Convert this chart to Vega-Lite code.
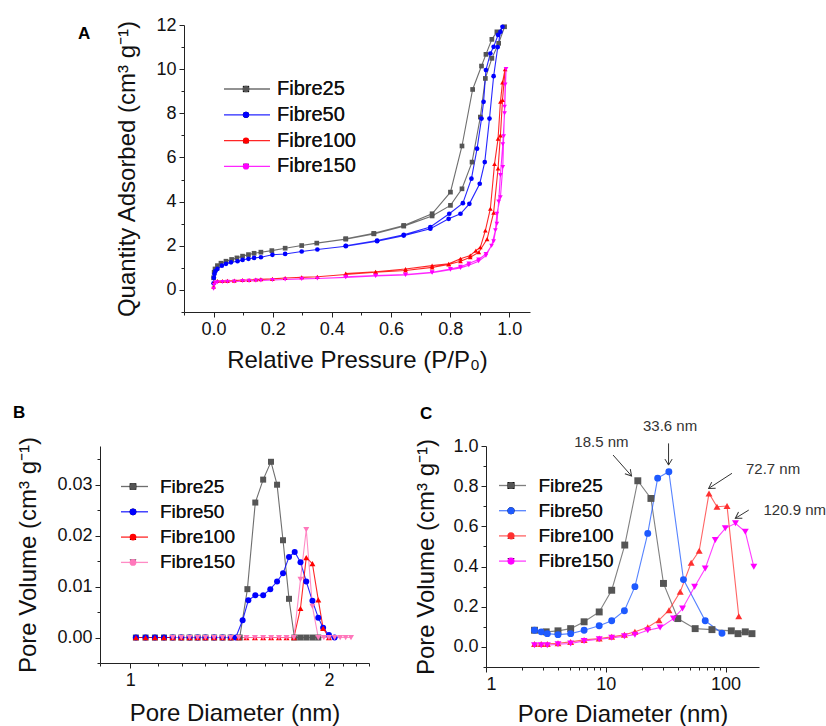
{
  "$schema": "https://vega.github.io/schema/vega-lite/v6.json",
  "padding": {"left": 13, "top": 16, "right": 0, "bottom": 0},
  "background": "white",
  "config": {
    "font": "Liberation Sans",
    "view": {"stroke": null},
    "axis": {"grid": false, "domainColor": "#222", "tickColor": "#222", "labelColor": "#111", "titleColor": "#111", "labelFontSize": 18, "titleFontSize": 24, "titleFontWeight": "normal", "labelFont": "Liberation Sans", "titleFont": "Liberation Sans", "tickSize": 5, "labelPadding": 3},
    "legend": {"labelFont": "Liberation Sans", "labelColor": "#111"},
    "title": {"font": "Liberation Sans", "fontWeight": "bold", "color": "#000"}
  },
  "datasets": {
    "iso": [
      {"s":"Fibre25","i":0,"P":0.000,"Q":0.55},{"s":"Fibre25","i":1,"P":0.002,"Q":0.80},{"s":"Fibre25","i":2,"P":0.005,"Q":0.95},{"s":"Fibre25","i":3,"P":0.013,"Q":1.10},{"s":"Fibre25","i":4,"P":0.025,"Q":1.21},{"s":"Fibre25","i":5,"P":0.042,"Q":1.30},{"s":"Fibre25","i":6,"P":0.061,"Q":1.38},{"s":"Fibre25","i":7,"P":0.079,"Q":1.45},{"s":"Fibre25","i":8,"P":0.098,"Q":1.53},{"s":"Fibre25","i":9,"P":0.118,"Q":1.60},{"s":"Fibre25","i":10,"P":0.137,"Q":1.66},{"s":"Fibre25","i":11,"P":0.160,"Q":1.71},{"s":"Fibre25","i":12,"P":0.197,"Q":1.78},{"s":"Fibre25","i":13,"P":0.242,"Q":1.89},{"s":"Fibre25","i":14,"P":0.298,"Q":2.01},{"s":"Fibre25","i":15,"P":0.349,"Q":2.12},{"s":"Fibre25","i":16,"P":0.447,"Q":2.30},{"s":"Fibre25","i":17,"P":0.542,"Q":2.54},{"s":"Fibre25","i":18,"P":0.643,"Q":2.89},{"s":"Fibre25","i":19,"P":0.739,"Q":3.35},{"s":"Fibre25","i":20,"P":0.801,"Q":3.83},{"s":"Fibre25","i":21,"P":0.840,"Q":4.58},{"s":"Fibre25","i":22,"P":0.874,"Q":5.79},{"s":"Fibre25","i":23,"P":0.902,"Q":7.83},{"s":"Fibre25","i":24,"P":0.919,"Q":9.58},{"s":"Fibre25","i":25,"P":0.941,"Q":10.49},{"s":"Fibre25","i":26,"P":0.964,"Q":11.17},{"s":"Fibre25","i":27,"P":0.984,"Q":11.92},{"s":"Fibre25","i":28,"P":0.958,"Q":11.69},{"s":"Fibre25","i":29,"P":0.941,"Q":11.35},{"s":"Fibre25","i":30,"P":0.921,"Q":10.67},{"s":"Fibre25","i":31,"P":0.906,"Q":10.14},{"s":"Fibre25","i":32,"P":0.876,"Q":9.08},{"s":"Fibre25","i":33,"P":0.840,"Q":6.52},{"s":"Fibre25","i":34,"P":0.801,"Q":4.43},{"s":"Fibre25","i":35,"P":0.739,"Q":3.45},{"s":"Fibre25","i":36,"P":0.643,"Q":2.92},{"s":"Fibre25","i":37,"P":0.542,"Q":2.56},{"s":"Fibre25","i":38,"P":0.447,"Q":2.32},
      {"s":"Fibre50","i":0,"P":0.000,"Q":0.30},{"s":"Fibre50","i":1,"P":0.001,"Q":0.55},{"s":"Fibre50","i":2,"P":0.003,"Q":0.72},{"s":"Fibre50","i":3,"P":0.006,"Q":0.85},{"s":"Fibre50","i":4,"P":0.013,"Q":0.95},{"s":"Fibre50","i":5,"P":0.028,"Q":1.10},{"s":"Fibre50","i":6,"P":0.042,"Q":1.18},{"s":"Fibre50","i":7,"P":0.059,"Q":1.25},{"s":"Fibre50","i":8,"P":0.081,"Q":1.30},{"s":"Fibre50","i":9,"P":0.098,"Q":1.36},{"s":"Fibre50","i":10,"P":0.118,"Q":1.41},{"s":"Fibre50","i":11,"P":0.137,"Q":1.45},{"s":"Fibre50","i":12,"P":0.160,"Q":1.48},{"s":"Fibre50","i":13,"P":0.199,"Q":1.59},{"s":"Fibre50","i":14,"P":0.242,"Q":1.63},{"s":"Fibre50","i":15,"P":0.298,"Q":1.74},{"s":"Fibre50","i":16,"P":0.351,"Q":1.83},{"s":"Fibre50","i":17,"P":0.447,"Q":1.98},{"s":"Fibre50","i":18,"P":0.553,"Q":2.21},{"s":"Fibre50","i":19,"P":0.643,"Q":2.46},{"s":"Fibre50","i":20,"P":0.733,"Q":2.77},{"s":"Fibre50","i":21,"P":0.795,"Q":3.22},{"s":"Fibre50","i":22,"P":0.835,"Q":3.45},{"s":"Fibre50","i":23,"P":0.865,"Q":3.90},{"s":"Fibre50","i":24,"P":0.900,"Q":4.81},{"s":"Fibre50","i":25,"P":0.917,"Q":5.79},{"s":"Fibre50","i":26,"P":0.933,"Q":7.76},{"s":"Fibre50","i":27,"P":0.947,"Q":9.68},{"s":"Fibre50","i":28,"P":0.961,"Q":11.00},{"s":"Fibre50","i":29,"P":0.970,"Q":11.69},{"s":"Fibre50","i":30,"P":0.977,"Q":11.92},{"s":"Fibre50","i":31,"P":0.962,"Q":11.55},{"s":"Fibre50","i":32,"P":0.947,"Q":11.01},{"s":"Fibre50","i":33,"P":0.936,"Q":10.71},{"s":"Fibre50","i":34,"P":0.921,"Q":9.96},{"s":"Fibre50","i":35,"P":0.913,"Q":8.52},{"s":"Fibre50","i":36,"P":0.906,"Q":7.76},{"s":"Fibre50","i":37,"P":0.891,"Q":6.40},{"s":"Fibre50","i":38,"P":0.872,"Q":5.04},{"s":"Fibre50","i":39,"P":0.843,"Q":3.93},{"s":"Fibre50","i":40,"P":0.797,"Q":3.45},{"s":"Fibre50","i":41,"P":0.733,"Q":2.85},{"s":"Fibre50","i":42,"P":0.643,"Q":2.50},{"s":"Fibre50","i":43,"P":0.553,"Q":2.24},{"s":"Fibre50","i":44,"P":0.447,"Q":2.00},
      {"s":"Fibre100","i":0,"P":0.000,"Q":0.15},{"s":"Fibre100","i":1,"P":0.002,"Q":0.35},{"s":"Fibre100","i":2,"P":0.013,"Q":0.40},{"s":"Fibre100","i":3,"P":0.030,"Q":0.40},{"s":"Fibre100","i":4,"P":0.047,"Q":0.41},{"s":"Fibre100","i":5,"P":0.070,"Q":0.42},{"s":"Fibre100","i":6,"P":0.098,"Q":0.45},{"s":"Fibre100","i":7,"P":0.120,"Q":0.45},{"s":"Fibre100","i":8,"P":0.143,"Q":0.47},{"s":"Fibre100","i":9,"P":0.160,"Q":0.48},{"s":"Fibre100","i":10,"P":0.199,"Q":0.50},{"s":"Fibre100","i":11,"P":0.242,"Q":0.54},{"s":"Fibre100","i":12,"P":0.298,"Q":0.57},{"s":"Fibre100","i":13,"P":0.351,"Q":0.60},{"s":"Fibre100","i":14,"P":0.447,"Q":0.70},{"s":"Fibre100","i":15,"P":0.548,"Q":0.80},{"s":"Fibre100","i":16,"P":0.649,"Q":0.88},{"s":"Fibre100","i":17,"P":0.739,"Q":1.02},{"s":"Fibre100","i":18,"P":0.795,"Q":1.15},{"s":"Fibre100","i":19,"P":0.835,"Q":1.30},{"s":"Fibre100","i":20,"P":0.868,"Q":1.48},{"s":"Fibre100","i":21,"P":0.897,"Q":1.71},{"s":"Fibre100","i":22,"P":0.925,"Q":2.30},{"s":"Fibre100","i":23,"P":0.947,"Q":3.50},{"s":"Fibre100","i":24,"P":0.962,"Q":5.50},{"s":"Fibre100","i":25,"P":0.970,"Q":7.00},{"s":"Fibre100","i":26,"P":0.977,"Q":8.60},{"s":"Fibre100","i":27,"P":0.986,"Q":10.00},{"s":"Fibre100","i":28,"P":0.977,"Q":9.40},{"s":"Fibre100","i":29,"P":0.970,"Q":8.52},{"s":"Fibre100","i":30,"P":0.962,"Q":6.85},{"s":"Fibre100","i":31,"P":0.950,"Q":5.70},{"s":"Fibre100","i":32,"P":0.936,"Q":3.68},{"s":"Fibre100","i":33,"P":0.919,"Q":2.69},{"s":"Fibre100","i":34,"P":0.902,"Q":1.93},{"s":"Fibre100","i":35,"P":0.887,"Q":1.78},{"s":"Fibre100","i":36,"P":0.868,"Q":1.56},{"s":"Fibre100","i":37,"P":0.835,"Q":1.41},{"s":"Fibre100","i":38,"P":0.795,"Q":1.18},{"s":"Fibre100","i":39,"P":0.739,"Q":1.10},{"s":"Fibre100","i":40,"P":0.649,"Q":0.95},{"s":"Fibre100","i":41,"P":0.548,"Q":0.82},{"s":"Fibre100","i":42,"P":0.447,"Q":0.74},
      {"s":"Fibre150","i":0,"P":0.000,"Q":0.05},{"s":"Fibre150","i":1,"P":0.002,"Q":0.22},{"s":"Fibre150","i":2,"P":0.006,"Q":0.32},{"s":"Fibre150","i":3,"P":0.013,"Q":0.35},{"s":"Fibre150","i":4,"P":0.030,"Q":0.36},{"s":"Fibre150","i":5,"P":0.047,"Q":0.37},{"s":"Fibre150","i":6,"P":0.070,"Q":0.38},{"s":"Fibre150","i":7,"P":0.098,"Q":0.40},{"s":"Fibre150","i":8,"P":0.120,"Q":0.41},{"s":"Fibre150","i":9,"P":0.143,"Q":0.42},{"s":"Fibre150","i":10,"P":0.160,"Q":0.43},{"s":"Fibre150","i":11,"P":0.199,"Q":0.45},{"s":"Fibre150","i":12,"P":0.242,"Q":0.47},{"s":"Fibre150","i":13,"P":0.298,"Q":0.50},{"s":"Fibre150","i":14,"P":0.351,"Q":0.52},{"s":"Fibre150","i":15,"P":0.447,"Q":0.57},{"s":"Fibre150","i":16,"P":0.548,"Q":0.63},{"s":"Fibre150","i":17,"P":0.649,"Q":0.68},{"s":"Fibre150","i":18,"P":0.739,"Q":0.78},{"s":"Fibre150","i":19,"P":0.801,"Q":0.92},{"s":"Fibre150","i":20,"P":0.835,"Q":1.00},{"s":"Fibre150","i":21,"P":0.863,"Q":1.12},{"s":"Fibre150","i":22,"P":0.896,"Q":1.30},{"s":"Fibre150","i":23,"P":0.921,"Q":1.55},{"s":"Fibre150","i":24,"P":0.947,"Q":2.20},{"s":"Fibre150","i":25,"P":0.958,"Q":3.00},{"s":"Fibre150","i":26,"P":0.964,"Q":4.00},{"s":"Fibre150","i":27,"P":0.970,"Q":5.20},{"s":"Fibre150","i":28,"P":0.978,"Q":6.60},{"s":"Fibre150","i":29,"P":0.984,"Q":8.00},{"s":"Fibre150","i":30,"P":0.989,"Q":10.00},{"s":"Fibre150","i":31,"P":0.986,"Q":9.30},{"s":"Fibre150","i":32,"P":0.984,"Q":8.30},{"s":"Fibre150","i":33,"P":0.981,"Q":6.96},{"s":"Fibre150","i":34,"P":0.978,"Q":5.57},{"s":"Fibre150","i":35,"P":0.970,"Q":4.20},{"s":"Fibre150","i":36,"P":0.958,"Q":3.45},{"s":"Fibre150","i":37,"P":0.953,"Q":2.70},{"s":"Fibre150","i":38,"P":0.940,"Q":2.00},{"s":"Fibre150","i":39,"P":0.921,"Q":1.63},{"s":"Fibre150","i":40,"P":0.896,"Q":1.38},{"s":"Fibre150","i":41,"P":0.863,"Q":1.20},{"s":"Fibre150","i":42,"P":0.835,"Q":1.05},{"s":"Fibre150","i":43,"P":0.801,"Q":0.95},{"s":"Fibre150","i":44,"P":0.739,"Q":0.80},{"s":"Fibre150","i":45,"P":0.649,"Q":0.70},{"s":"Fibre150","i":46,"P":0.548,"Q":0.65},{"s":"Fibre150","i":47,"P":0.447,"Q":0.60}
    ],
    "micro": [
      {"s":"Fibre25","D":1.02,"V":0},{"s":"Fibre25","D":1.055,"V":0},{"s":"Fibre25","D":1.09,"V":0},{"s":"Fibre25","D":1.125,"V":0},{"s":"Fibre25","D":1.16,"V":0},{"s":"Fibre25","D":1.195,"V":0},{"s":"Fibre25","D":1.23,"V":0},{"s":"Fibre25","D":1.265,"V":0},{"s":"Fibre25","D":1.30,"V":0},{"s":"Fibre25","D":1.34,"V":0},{"s":"Fibre25","D":1.38,"V":0},{"s":"Fibre25","D":1.42,"V":0},{"s":"Fibre25","D":1.465,"V":0},{"s":"Fibre25","D":1.505,"V":0.0095},{"s":"Fibre25","D":1.547,"V":0.0265},{"s":"Fibre25","D":1.59,"V":0.031},{"s":"Fibre25","D":1.634,"V":0.0345},{"s":"Fibre25","D":1.669,"V":0.030},{"s":"Fibre25","D":1.704,"V":0.0191},{"s":"Fibre25","D":1.74,"V":0.0076},{"s":"Fibre25","D":1.773,"V":0},{"s":"Fibre25","D":1.81,"V":0},{"s":"Fibre25","D":1.848,"V":0},{"s":"Fibre25","D":1.888,"V":0},{"s":"Fibre25","D":1.927,"V":0},
      {"s":"Fibre50","D":1.02,"V":0},{"s":"Fibre50","D":1.055,"V":0},{"s":"Fibre50","D":1.09,"V":0},{"s":"Fibre50","D":1.125,"V":0},{"s":"Fibre50","D":1.16,"V":0},{"s":"Fibre50","D":1.195,"V":0},{"s":"Fibre50","D":1.23,"V":0},{"s":"Fibre50","D":1.265,"V":0},{"s":"Fibre50","D":1.30,"V":0},{"s":"Fibre50","D":1.34,"V":0},{"s":"Fibre50","D":1.38,"V":0},{"s":"Fibre50","D":1.42,"V":0},{"s":"Fibre50","D":1.445,"V":0},{"s":"Fibre50","D":1.48,"V":0.0034},{"s":"Fibre50","D":1.51,"V":0.0073},{"s":"Fibre50","D":1.547,"V":0.0083},{"s":"Fibre50","D":1.59,"V":0.0083},{"s":"Fibre50","D":1.63,"V":0.0095},{"s":"Fibre50","D":1.669,"V":0.0110},{"s":"Fibre50","D":1.704,"V":0.0126},{"s":"Fibre50","D":1.74,"V":0.0158},{"s":"Fibre50","D":1.775,"V":0.0168},{"s":"Fibre50","D":1.811,"V":0.0148},{"s":"Fibre50","D":1.848,"V":0.0110},{"s":"Fibre50","D":1.888,"V":0.0072},{"s":"Fibre50","D":1.927,"V":0.0039},{"s":"Fibre50","D":1.96,"V":0.0019},{"s":"Fibre50","D":2.0,"V":0.0005},{"s":"Fibre50","D":2.04,"V":0},
      {"s":"Fibre100","D":1.02,"V":0},{"s":"Fibre100","D":1.055,"V":0},{"s":"Fibre100","D":1.09,"V":0},{"s":"Fibre100","D":1.125,"V":0},{"s":"Fibre100","D":1.16,"V":0},{"s":"Fibre100","D":1.195,"V":0},{"s":"Fibre100","D":1.23,"V":0},{"s":"Fibre100","D":1.265,"V":0},{"s":"Fibre100","D":1.30,"V":0},{"s":"Fibre100","D":1.34,"V":0},{"s":"Fibre100","D":1.38,"V":0},{"s":"Fibre100","D":1.42,"V":0},{"s":"Fibre100","D":1.46,"V":0},{"s":"Fibre100","D":1.50,"V":0},{"s":"Fibre100","D":1.545,"V":0},{"s":"Fibre100","D":1.59,"V":0},{"s":"Fibre100","D":1.635,"V":0},{"s":"Fibre100","D":1.68,"V":0},{"s":"Fibre100","D":1.725,"V":0},{"s":"Fibre100","D":1.77,"V":0},{"s":"Fibre100","D":1.811,"V":0.0057},{"s":"Fibre100","D":1.848,"V":0.0157},{"s":"Fibre100","D":1.888,"V":0.0145},{"s":"Fibre100","D":1.927,"V":0.0074},{"s":"Fibre100","D":1.96,"V":0.0018},{"s":"Fibre100","D":2.0,"V":0},
      {"s":"Fibre150","D":1.16,"V":0},{"s":"Fibre150","D":1.195,"V":0},{"s":"Fibre150","D":1.23,"V":0},{"s":"Fibre150","D":1.265,"V":0},{"s":"Fibre150","D":1.30,"V":0},{"s":"Fibre150","D":1.34,"V":0},{"s":"Fibre150","D":1.38,"V":0},{"s":"Fibre150","D":1.42,"V":0},{"s":"Fibre150","D":1.46,"V":0},{"s":"Fibre150","D":1.50,"V":0},{"s":"Fibre150","D":1.545,"V":0},{"s":"Fibre150","D":1.59,"V":0},{"s":"Fibre150","D":1.635,"V":0},{"s":"Fibre150","D":1.68,"V":0},{"s":"Fibre150","D":1.725,"V":0},{"s":"Fibre150","D":1.77,"V":0},{"s":"Fibre150","D":1.811,"V":0.0114},{"s":"Fibre150","D":1.848,"V":0.0212},{"s":"Fibre150","D":1.888,"V":0.0061},{"s":"Fibre150","D":1.927,"V":0},{"s":"Fibre150","D":1.965,"V":0},{"s":"Fibre150","D":2.0,"V":0},{"s":"Fibre150","D":2.04,"V":0},{"s":"Fibre150","D":2.08,"V":0},{"s":"Fibre150","D":2.12,"V":0},{"s":"Fibre150","D":2.16,"V":0}
    ],
    "meso": [
      {"s":"Fibre25","D":2.54,"V":0.083},{"s":"Fibre25","D":3.18,"V":0.075},{"s":"Fibre25","D":3.99,"V":0.080},{"s":"Fibre25","D":5.09,"V":0.091},{"s":"Fibre25","D":6.59,"V":0.125},{"s":"Fibre25","D":8.81,"V":0.174},{"s":"Fibre25","D":11.2,"V":0.282},{"s":"Fibre25","D":14.4,"V":0.507},{"s":"Fibre25","D":18.5,"V":0.827},{"s":"Fibre25","D":23.8,"V":0.739},{"s":"Fibre25","D":30.3,"V":0.316},{"s":"Fibre25","D":39.9,"V":0.141},{"s":"Fibre25","D":55.7,"V":0.091},{"s":"Fibre25","D":76.9,"V":0.086},{"s":"Fibre25","D":111.6,"V":0.080},{"s":"Fibre25","D":127,"V":0.066},{"s":"Fibre25","D":146,"V":0.075},{"s":"Fibre25","D":166,"V":0.066},
      {"s":"Fibre50","D":2.54,"V":0.083},{"s":"Fibre50","D":2.89,"V":0.075},{"s":"Fibre50","D":3.25,"V":0.066},{"s":"Fibre50","D":3.99,"V":0.061},{"s":"Fibre50","D":5.09,"V":0.066},{"s":"Fibre50","D":6.59,"V":0.083},{"s":"Fibre50","D":8.81,"V":0.105},{"s":"Fibre50","D":11.2,"V":0.130},{"s":"Fibre50","D":14.3,"V":0.180},{"s":"Fibre50","D":17.5,"V":0.300},{"s":"Fibre50","D":22.4,"V":0.565},{"s":"Fibre50","D":27.1,"V":0.840},{"s":"Fibre50","D":33.6,"V":0.872},{"s":"Fibre50","D":44.5,"V":0.335},{"s":"Fibre50","D":67.6,"V":0.130},{"s":"Fibre50","D":93.3,"V":0.068},
      {"s":"Fibre100","D":2.54,"V":0.015},{"s":"Fibre100","D":2.89,"V":0.015},{"s":"Fibre100","D":3.25,"V":0.015},{"s":"Fibre100","D":3.99,"V":0.018},{"s":"Fibre100","D":5.09,"V":0.025},{"s":"Fibre100","D":6.59,"V":0.035},{"s":"Fibre100","D":8.81,"V":0.042},{"s":"Fibre100","D":11.2,"V":0.050},{"s":"Fibre100","D":14.3,"V":0.060},{"s":"Fibre100","D":17.5,"V":0.075},{"s":"Fibre100","D":22.4,"V":0.098},{"s":"Fibre100","D":27.8,"V":0.133},{"s":"Fibre100","D":33.7,"V":0.183},{"s":"Fibre100","D":41.8,"V":0.274},{"s":"Fibre100","D":51.6,"V":0.419},{"s":"Fibre100","D":60.2,"V":0.478},{"s":"Fibre100","D":72.7,"V":0.764},{"s":"Fibre100","D":84.7,"V":0.698},{"s":"Fibre100","D":102.8,"V":0.701},{"s":"Fibre100","D":128.8,"V":0.153},
      {"s":"Fibre150","D":2.54,"V":0.008},{"s":"Fibre150","D":2.89,"V":0.008},{"s":"Fibre150","D":3.25,"V":0.008},{"s":"Fibre150","D":3.99,"V":0.013},{"s":"Fibre150","D":5.09,"V":0.017},{"s":"Fibre150","D":6.59,"V":0.030},{"s":"Fibre150","D":8.81,"V":0.038},{"s":"Fibre150","D":11.2,"V":0.045},{"s":"Fibre150","D":14.3,"V":0.053},{"s":"Fibre150","D":17.5,"V":0.061},{"s":"Fibre150","D":22.4,"V":0.083},{"s":"Fibre150","D":28.4,"V":0.096},{"s":"Fibre150","D":36.7,"V":0.141},{"s":"Fibre150","D":43.7,"V":0.191},{"s":"Fibre150","D":55.1,"V":0.299},{"s":"Fibre150","D":67.6,"V":0.390},{"s":"Fibre150","D":82.0,"V":0.532},{"s":"Fibre150","D":99.4,"V":0.590},{"s":"Fibre150","D":120.9,"V":0.615},{"s":"Fibre150","D":146,"V":0.573},{"s":"Fibre150","D":172,"V":0.399}
    ],
    "notes": [
      {"t":"18.5 nm","tx":9.2,"ty":1.021,"x1":11.5,"y1":0.955,"x2":16.4,"y2":0.851,"a":139},
      {"t":"33.6 nm","tx":34.4,"ty":1.10,"x1":33.4,"y1":1.013,"x2":33.4,"y2":0.905,"a":180},
      {"t":"72.7 nm","tx":249,"ty":0.884,"x1":113,"y1":0.864,"x2":72.2,"y2":0.789,"a":237},
      {"t":"120.9 nm","tx":378,"ty":0.681,"x1":156,"y1":0.681,"x2":120.6,"y2":0.640,"a":238}
    ]
  },
  "spacing": 32,
  "resolve": {"scale": {"color": "independent", "shape": "independent", "x": "independent", "y": "independent"}, "legend": {"color": "independent", "shape": "independent"}},
  "vconcat": [
    {
      "spacing": 0,
      "bounds": "flush",
      "resolve": {"scale": {"color": "independent", "shape": "independent"}, "legend": {"color": "independent", "shape": "independent"}},
      "hconcat": [
        {"width": 84, "height": 10, "data": {"values": []}, "mark": "point"},
        {
          "width": 346, "height": 287,
          "title": {"text": "A", "anchor": "start", "frame": "group", "offset": 0, "baseline": "alphabetic", "dx": -106, "dy": 40, "fontSize": 17},
          "data": {"name": "iso"},
          "layer": [
            {
              "mark": {"type": "line", "strokeWidth": 1.1, "opacity": 0.85},
              "encoding": {
                "x": {"field": "P", "type": "quantitative", "scale": {"domain": [-0.1, 1.07], "nice": false, "zero": false}, "axis": {"orient": "bottom", "values": [0, 0.2, 0.4, 0.6, 0.8, 1.0], "format": ".1f", "title": "Relative Pressure (P/P₀)", "titlePadding": 10}},
                "y": {"field": "Q", "type": "quantitative", "scale": {"domain": [-1, 12], "nice": false, "zero": false}, "axis": {"orient": "left", "values": [0, 2, 4, 6, 8, 10, 12], "title": "Quantity Adsorbed (cm³ g⁻¹)", "titlePadding": 16}},
                "color": {"field": "s", "type": "nominal", "scale": {"domain": ["Fibre25", "Fibre50", "Fibre100", "Fibre150"], "range": ["#555555", "#0000ff", "#ff0000", "#ff00ff"]}, "legend": {"orient": "none", "legendX": 39, "legendY": 54, "title": null, "symbolType": "stroke", "symbolSize": 2116, "symbolStrokeWidth": 1.3, "clipHeight": 20, "rowPadding": 5.8, "labelExpr": "''", "labelOpacity": 0, "labelFontSize": 20, "labelOffset": 21, "padding": 0}},
                "order": {"field": "i", "type": "quantitative"}
              }
            },
            {
              "mark": {"type": "point", "filled": true, "size": 22, "opacity": 1},
              "encoding": {
                "x": {"field": "P", "type": "quantitative", "axis": {"orient": "bottom", "values": [-0.1, 0.1, 0.3, 0.5, 0.7, 0.9], "labels": false, "domain": false, "tickSize": 3, "title": null}},
                "y": {"field": "Q", "type": "quantitative", "axis": {"orient": "left", "values": [-1, 1, 3, 5, 7, 9, 11], "labels": false, "domain": false, "tickSize": 3, "title": null}},
                "color": {"field": "s", "type": "nominal", "legend": {"orient": "none", "legendX": 52, "legendY": 54, "title": null, "symbolSize": 40, "clipHeight": 20, "rowPadding": 5.8, "labelOffset": 21, "labelFontSize": 20, "padding": 0, "zindex": 1}},
                "shape": {"field": "s", "type": "nominal", "scale": {"domain": ["Fibre25", "Fibre50", "Fibre100", "Fibre150"], "range": ["square", "circle", "triangle-up", "triangle-down"]}, "legend": {"orient": "none", "legendX": 52, "legendY": 54, "title": null, "symbolSize": 40, "clipHeight": 20, "rowPadding": 5.8, "labelOffset": 21, "labelFontSize": 20, "padding": 0, "zindex": 1}}
              }
            }
          ],
          "resolve": {"axis": {"x": "independent", "y": "independent"}, "legend": {"color": "independent"}}
        }
      ]
    },
    {
      "spacing": 44,
      "resolve": {"scale": {"color": "independent", "shape": "independent", "x": "independent", "y": "independent"}, "legend": {"color": "independent", "shape": "independent"}},
      "hconcat": [
        {
          "width": 269, "height": 217,
          "title": {"text": "B", "anchor": "start", "frame": "group", "offset": 0, "baseline": "alphabetic", "dx": -87, "dy": -1, "fontSize": 17},
          "data": {"name": "micro"},
          "layer": [
            {
              "mark": {"type": "line", "strokeWidth": 1.1, "opacity": 0.85},
              "encoding": {
                "x": {"field": "D", "type": "quantitative", "scale": {"type": "log", "domain": [0.9, 2.3], "nice": false}, "axis": {"orient": "bottom", "values": [1, 2], "format": "d", "title": "Pore Diameter (nm)", "titlePadding": 12}},
                "y": {"field": "V", "type": "quantitative", "scale": {"domain": [-0.005, 0.0376], "nice": false, "zero": false}, "axis": {"orient": "left", "values": [0, 0.01, 0.02, 0.03], "format": ".2f", "title": "Pore Volume (cm³ g⁻¹)", "titlePadding": 16}},
                "color": {"field": "s", "type": "nominal", "scale": {"domain": ["Fibre25", "Fibre50", "Fibre100", "Fibre150"], "range": ["#555555", "#0000ff", "#ff0000", "#ff77bb"]}, "legend": {"orient": "none", "legendX": 20, "legendY": 31, "title": null, "symbolType": "stroke", "symbolSize": 729, "symbolStrokeWidth": 1.3, "clipHeight": 19, "rowPadding": 5.3, "labelExpr": "''", "labelOpacity": 0, "labelFontSize": 19, "labelOffset": 17, "padding": 0}}
              }
            },
            {
              "mark": {"type": "point", "filled": true, "size": 36, "opacity": 1},
              "encoding": {
                "x": {"field": "D", "type": "quantitative", "axis": {"orient": "bottom", "values": [0.9, 1.1, 1.2, 1.3, 1.4, 1.5, 1.6, 1.7, 1.8, 1.9, 2.1, 2.2, 2.3], "labels": false, "domain": false, "tickSize": 3, "title": null}},
                "y": {"field": "V", "type": "quantitative", "axis": {"orient": "left", "values": [-0.005, 0.005, 0.015, 0.025, 0.035], "labels": false, "domain": false, "tickSize": 3, "title": null}},
                "color": {"field": "s", "type": "nominal", "legend": {"orient": "none", "legendX": 23.5, "legendY": 31, "title": null, "symbolSize": 45, "clipHeight": 19, "rowPadding": 5.3, "labelOffset": 17.5, "labelFontSize": 19, "padding": 0, "zindex": 1}},
                "shape": {"field": "s", "type": "nominal", "scale": {"domain": ["Fibre25", "Fibre50", "Fibre100", "Fibre150"], "range": ["square", "circle", "triangle-up", "triangle-down"]}, "legend": {"orient": "none", "legendX": 23.5, "legendY": 31, "title": null, "symbolSize": 45, "clipHeight": 19, "rowPadding": 5.3, "labelOffset": 17.5, "labelFontSize": 19, "padding": 0, "zindex": 1}}
              }
            }
          ],
          "resolve": {"axis": {"x": "independent", "y": "independent"}, "legend": {"color": "independent"}}
        },
        {
          "width": 273, "height": 221,
          "title": {"text": "C", "anchor": "start", "frame": "group", "offset": 0, "baseline": "alphabetic", "dx": -66, "dy": 17, "fontSize": 17},
          "layer": [
            {
              "data": {"name": "meso"},
              "mark": {"type": "line", "strokeWidth": 1.1, "opacity": 0.75},
              "encoding": {
                "x": {"field": "D", "type": "quantitative", "scale": {"type": "log", "domain": [1, 190], "nice": false}, "axis": {"orient": "bottom", "values": [1, 10, 100], "format": "d", "title": "Pore Diameter (nm)", "titlePadding": 9}},
                "y": {"field": "V", "type": "quantitative", "scale": {"domain": [-0.1, 1.0], "nice": false, "zero": false}, "axis": {"orient": "left", "values": [0, 0.2, 0.4, 0.6, 0.8, 1.0], "format": ".1f", "title": "Pore Volume (cm³ g⁻¹)", "titlePadding": 14}},
                "color": {"field": "s", "type": "nominal", "scale": {"domain": ["Fibre25", "Fibre50", "Fibre100", "Fibre150"], "range": ["#555555", "#1e5aff", "#ff3030", "#ff00ff"]}, "legend": {"orient": "none", "legendX": 12, "legendY": 30, "title": null, "symbolType": "stroke", "symbolSize": 729, "symbolStrokeWidth": 1.3, "clipHeight": 19, "rowPadding": 5.2, "labelExpr": "''", "labelOpacity": 0, "labelFontSize": 19, "labelOffset": 17, "padding": 0}}
              }
            },
            {
              "data": {"name": "meso"},
              "mark": {"type": "point", "filled": true, "size": 48, "opacity": 1},
              "encoding": {
                "x": {"field": "D", "type": "quantitative", "axis": {"orient": "bottom", "values": [2, 3, 4, 5, 6, 7, 8, 9, 20, 30, 40, 50, 60, 70, 80, 90], "labels": false, "domain": false, "tickSize": 3, "title": null}},
                "y": {"field": "V", "type": "quantitative", "axis": {"orient": "left", "values": [-0.1, 0.1, 0.3, 0.5, 0.7, 0.9], "labels": false, "domain": false, "tickSize": 3, "title": null}},
                "color": {"field": "s", "type": "nominal", "legend": {"orient": "none", "legendX": 15.5, "legendY": 30, "title": null, "symbolSize": 50, "clipHeight": 19, "rowPadding": 5.2, "labelOffset": 18, "labelFontSize": 19, "padding": 0, "zindex": 1}},
                "shape": {"field": "s", "type": "nominal", "scale": {"domain": ["Fibre25", "Fibre50", "Fibre100", "Fibre150"], "range": ["square", "circle", "triangle-up", "triangle-down"]}, "legend": {"orient": "none", "legendX": 15.5, "legendY": 30, "title": null, "symbolSize": 50, "clipHeight": 19, "rowPadding": 5.2, "labelOffset": 18, "labelFontSize": 19, "padding": 0, "zindex": 1}}
              }
            },
            {
              "data": {"name": "notes"},
              "mark": {"type": "text", "fontSize": 15, "color": "#333", "align": "center", "baseline": "middle"},
              "encoding": {
                "x": {"field": "tx", "type": "quantitative", "axis": null},
                "y": {"field": "ty", "type": "quantitative", "axis": null},
                "text": {"field": "t"}
              }
            },
            {
              "data": {"name": "notes"},
              "mark": {"type": "rule", "color": "#333", "strokeWidth": 1},
              "encoding": {
                "x": {"field": "x1", "type": "quantitative", "axis": null},
                "y": {"field": "y1", "type": "quantitative", "axis": null},
                "x2": {"field": "x2"},
                "y2": {"field": "y2"}
              }
            },
            {
              "data": {"name": "notes"},
              "mark": {"type": "point", "shape": "M-0.6,1L0,0L0.6,1", "filled": false, "stroke": "#333", "strokeWidth": 1, "size": 144, "opacity": 1},
              "encoding": {
                "x": {"field": "x2", "type": "quantitative", "axis": null},
                "y": {"field": "y2", "type": "quantitative", "axis": null},
                "angle": {"field": "a", "type": "quantitative", "scale": null}
              }
            }
          ],
          "resolve": {"axis": {"x": "independent", "y": "independent"}, "legend": {"color": "independent"}}
        }
      ]
    }
  ]
}
